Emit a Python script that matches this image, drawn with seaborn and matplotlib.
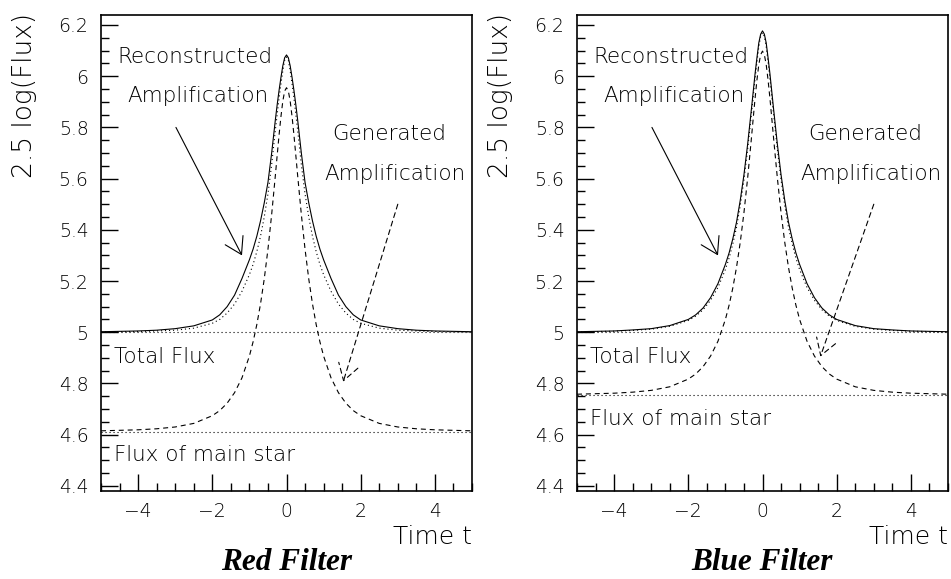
import numpy as np
import pandas as pd
import matplotlib
matplotlib.use("Agg")
import matplotlib.pyplot as plt
import seaborn as sns
from matplotlib.ticker import MultipleLocator, FuncFormatter

# |t| sampling of the symmetric light curves (time in Einstein-crossing units)
t_abs = [0.0, 0.05, 0.1, 0.15, 0.2, 0.25, 0.3, 0.4, 0.5, 0.6, 0.7, 0.8, 0.9, 1.0,
         1.2, 1.4, 1.6, 1.8, 2.0, 2.5, 3.0, 3.5, 4.0, 5.0]

# Red filter: 2.5 log(Flux)
red_total = [6.083, 6.072, 6.040, 5.995, 5.945, 5.890, 5.830, 5.700, 5.585, 5.505, 5.435,
             5.375, 5.325, 5.283, 5.210, 5.145, 5.100, 5.068, 5.048, 5.025, 5.014, 5.008,
             5.005, 5.002]
red_reco = [6.075, 6.062, 6.020, 5.970, 5.915, 5.853, 5.790, 5.655, 5.540, 5.450, 5.375,
            5.315, 5.265, 5.225, 5.160, 5.110, 5.075, 5.050, 5.035, 5.016, 5.008, 5.005,
            5.003, 5.001]
red_main = [5.955, 5.942, 5.902, 5.842, 5.771, 5.693, 5.613, 5.460, 5.324, 5.208, 5.111,
            5.030, 4.963, 4.907, 4.822, 4.764, 4.723, 4.694, 4.674, 4.644, 4.630, 4.623,
            4.619, 4.615]

# Blue filter: 2.5 log(Flux)
blue_total = [6.177, 6.164, 6.130, 6.072, 6.010, 5.940, 5.870, 5.735, 5.615, 5.515, 5.430,
              5.365, 5.310, 5.265, 5.190, 5.135, 5.095, 5.068, 5.050, 5.026, 5.014, 5.009,
              5.005, 5.002]
blue_reco = [6.170, 6.156, 6.115, 6.055, 5.990, 5.920, 5.850, 5.715, 5.595, 5.495, 5.410,
             5.345, 5.290, 5.245, 5.175, 5.125, 5.088, 5.063, 5.046, 5.023, 5.012, 5.007,
             5.004, 5.001]
blue_main = [6.098, 6.084, 6.045, 5.985, 5.914, 5.836, 5.756, 5.603, 5.467, 5.351, 5.254,
             5.173, 5.106, 5.050, 4.965, 4.907, 4.866, 4.837, 4.817, 4.787, 4.773, 4.766,
             4.762, 4.758]

# Baseline levels
total_level = 5.0
red_star_level = 4.612
blue_star_level = 4.755

panel_titles = ["Red Filter", "Blue Filter"]
x_label = "Time t"
y_label = "2.5 log(Flux)"

sns.set_style("ticks")
plt.rcParams["font.family"] = ["DejaVu Sans"]
plt.rcParams["axes.unicode_minus"] = True
plt.rcParams["text.color"] = "black"
plt.rcParams["xtick.color"] = "black"
plt.rcParams["ytick.color"] = "black"
plt.rcParams["xtick.labelcolor"] = "black"
plt.rcParams["ytick.labelcolor"] = "black"

fig = plt.figure(figsize=(9.51, 5.79), dpi=100)
ax_red = fig.add_axes([101 / 951, 88 / 579, 371 / 951, 476 / 579])
ax_blue = fig.add_axes([577 / 951, 88 / 579, 371 / 951, 476 / 579])

LW = 0.8
DASH = (4.5, 3.5)
DOT = (1.0, 2.6)
TXT = dict(fontsize=15.5, fontweight="light", color="k")


def mirrored(values):
    t = [-v for v in reversed(t_abs[1:])] + list(t_abs)
    y = list(reversed(values[1:])) + list(values)
    return pd.DataFrame({"t": t, "y": y})


def draw_panel(ax, total, reco, main, star_level, star_label_base, gen_tip, title, title_x):
    # horizontal reference levels
    for lvl in (total_level, star_level):
        sns.lineplot(data=pd.DataFrame({"t": [-5, 5], "y": [lvl, lvl]}), x="t", y="y",
                     ax=ax, color="k", lw=LW, linestyle=(0, DOT))
    sns.lineplot(data=mirrored(main), x="t", y="y", ax=ax, color="k", lw=LW,
                 linestyle=(0, DASH))
    sns.lineplot(data=mirrored(reco), x="t", y="y", ax=ax, color="k", lw=LW,
                 linestyle=(0, DOT))
    sns.lineplot(data=mirrored(total), x="t", y="y", ax=ax, color="k", lw=LW,
                 linestyle="-")

    ax.set_xlim(-5, 5)
    ax.set_ylim(4.380, 6.239)
    ax.set_xlabel("")
    ax.set_ylabel("")

    ax.xaxis.set_major_locator(MultipleLocator(2))
    ax.xaxis.set_minor_locator(MultipleLocator(0.5))
    ax.yaxis.set_major_locator(MultipleLocator(0.2))
    ax.yaxis.set_minor_locator(MultipleLocator(0.05))
    ax.yaxis.set_major_formatter(FuncFormatter(lambda v, p: f"{round(v, 2):g}"))
    ax.xaxis.set_major_formatter(
        FuncFormatter(lambda v, p: f"{round(v):d}".replace("-", "\u2212")))
    ax.tick_params(which="both", direction="in", top=False, right=False,
                   width=1.0, color="k", labelcolor="k")
    ax.tick_params(which="major", length=12, labelsize=13.5)
    ax.tick_params(axis="y", which="major", pad=9)
    ax.tick_params(axis="x", which="major", pad=8)
    ax.tick_params(which="minor", length=6)
    for lab in ax.get_xticklabels() + ax.get_yticklabels():
        lab.set_fontweight("light")
    for sp in ax.spines.values():
        sp.set_linewidth(1.2)
        sp.set_color("k")

    # annotations
    ax.text(-4.57, 6.051, "Reconstructed", ha="left", va="baseline", **TXT)
    ax.text(-4.28, 5.901, "Amplification", ha="left", va="baseline", **TXT)
    ax.text(1.23, 5.751, "Generated", ha="left", va="baseline", **TXT)
    ax.text(1.01, 5.595, "Amplification", ha="left", va="baseline", **TXT)
    ax.text(-4.65, 4.880, "Total Flux", ha="left", va="baseline", **TXT)
    ax.text(-4.65, star_label_base, "Flux of main star", ha="left", va="baseline", **TXT)

    head = "->,head_length=0.58,head_width=0.36"
    ax.annotate("", xy=(-1.20, 5.30), xytext=(-2.98, 5.80),
                arrowprops=dict(arrowstyle=head, lw=LW, color="k", shrinkA=0, shrinkB=0,
                                mutation_scale=20))
    ax.annotate("", xy=gen_tip, xytext=(3.0, 5.50),
                arrowprops=dict(arrowstyle=head, lw=LW, color="k", shrinkA=0, shrinkB=0,
                                mutation_scale=20, linestyle=(0, (4.5, 3.5))))

    ax.text(1.0, -0.096, x_label, transform=ax.transAxes, ha="right", va="center",
            fontsize=18, fontweight="light", color="k")
    ax.text(-0.205, 1.004, y_label, transform=ax.transAxes, ha="center", va="top",
            rotation=90, fontsize=19, fontweight="light", color="k")
    fig.text(title_x / 951, 1 - 570 / 579, title, ha="center", va="baseline",
             family="Liberation Serif", fontweight="bold", style="italic", fontsize=22.5,
             color="k")


draw_panel(ax_red, red_total, red_reco, red_main, red_star_level, 4.497,
           (1.53, 4.807), panel_titles[0], 286.7)
draw_panel(ax_blue, blue_total, blue_reco, blue_main, blue_star_level, 4.638,
           (1.56, 4.905), panel_titles[1], 762.3)

fig.savefig("out.png", dpi=100)
